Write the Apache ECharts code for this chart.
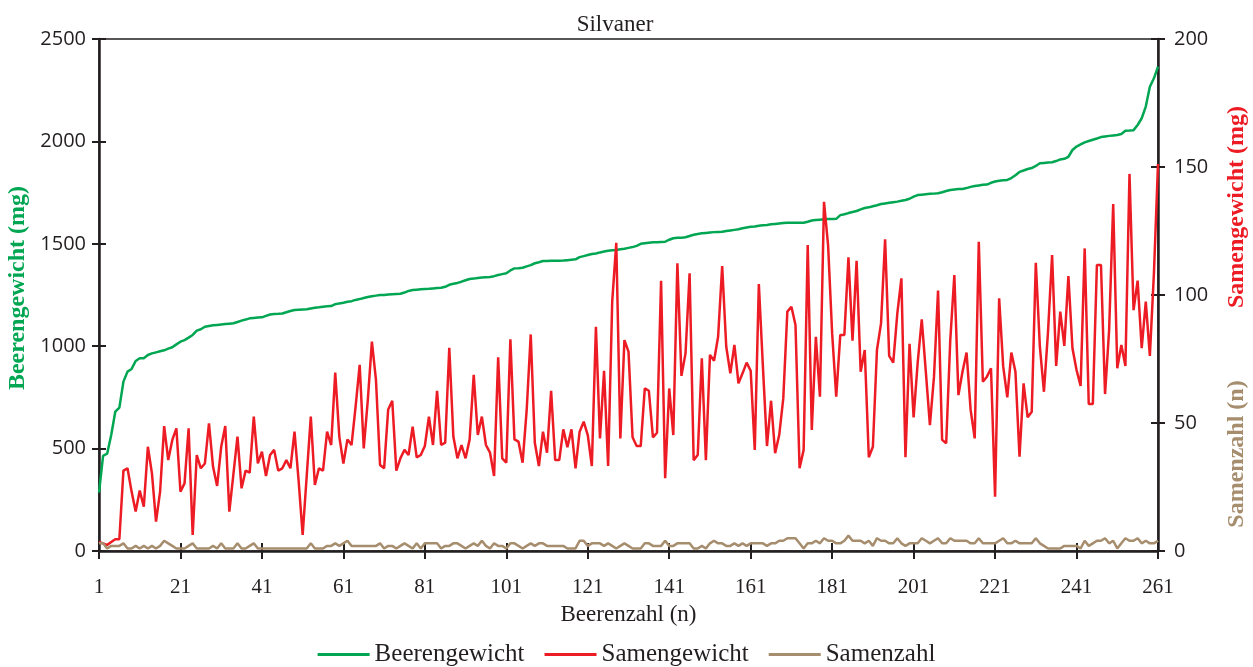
<!DOCTYPE html>
<html><head><meta charset="utf-8">
<script src="https://cdn.jsdelivr.net/npm/echarts@6/dist/echarts.min.js"></script>
<style>html,body{margin:0;padding:0;background:#fff}#c{width:1253px;height:667px}</style>
</head><body><div id="c"></div>
<script>
// Beerenzahl (n): berry number 1..261
const categories = [];
for (let i = 1; i <= 261; i++) categories.push(String(i));

// Beerengewicht (mg) – left axis
const beerengewicht = [285,465,475,566,680,700,827,876,889,928,
941,941,957,965,970,975,980,988,995,1009,
1022,1030,1042,1055,1076,1083,1095,1099,1102,1104,
1106,1108,1110,1112,1118,1125,1130,1136,1138,1140,
1141,1148,1155,1157,1158,1160,1166,1172,1177,1178,
1179,1180,1184,1188,1190,1193,1195,1196,1205,1209,
1212,1217,1220,1226,1230,1235,1240,1244,1247,1250,
1250,1252,1254,1255,1256,1262,1270,1274,1276,1278,
1279,1280,1282,1284,1285,1290,1300,1305,1309,1315,
1322,1328,1330,1333,1335,1337,1338,1342,1348,1352,
1356,1370,1380,1381,1383,1390,1396,1405,1410,1416,
1416,1417,1417,1417,1418,1420,1422,1424,1435,1440,
1445,1450,1453,1458,1462,1466,1468,1470,1473,1476,
1480,1484,1490,1500,1503,1505,1507,1508,1509,1510,
1520,1527,1529,1530,1532,1538,1544,1548,1551,1553,
1555,1557,1558,1559,1562,1565,1568,1571,1576,1580,
1583,1585,1588,1590,1592,1595,1597,1599,1601,1603,
1603,1603,1603,1603,1608,1614,1616,1618,1620,1621,
1621,1622,1640,1644,1650,1655,1660,1668,1675,1678,
1683,1688,1694,1697,1700,1703,1706,1710,1714,1720,
1730,1738,1740,1742,1744,1745,1747,1752,1758,1763,
1765,1767,1768,1772,1778,1782,1785,1788,1789,1798,
1804,1808,1810,1812,1821,1835,1851,1858,1865,1870,
1880,1893,1895,1897,1898,1904,1912,1915,1925,1958,
1975,1985,1995,2002,2008,2014,2021,2024,2027,2029,
2031,2036,2052,2053,2055,2080,2113,2170,2267,2308,2365];

// Samengewicht (mg) – right axis
const samengewicht = [3.5,3,2.3,3.5,4.6,4.6,31.4,32.3,23.2,15.4,
23.6,17.3,40.7,30.3,11.5,23.2,48.8,35.5,43.4,47.9,
23.2,26.4,47.9,6.3,37.5,32.3,34.2,49.9,32.9,25.4,
40.7,48.8,15.4,30,44.7,24.5,31.4,30.6,52.5,34.2,
38.8,29.3,37.5,39.5,31.4,32.3,35.5,32.3,46.6,27.7,
6.3,29.4,52.5,25.8,32.3,31.4,46.6,41.4,69.7,44.7,
34.2,43.6,41.4,56.4,72.7,40.1,59,81.8,66.8,33.6,
32.3,55.3,58.7,31.4,36.2,39.5,37.5,48.6,36.6,37.5,
41,52.5,41.4,62.6,41.4,42.3,79.4,44.7,36.2,41.4,
36.2,43.6,68.8,45.3,52.5,41.4,38.4,29.3,75.7,36.2,
34.5,82.7,43.6,42.7,34.5,55,84.6,42.3,33.2,46.6,
38.4,62.6,35.5,35.5,47.5,40.5,47.5,32.3,46.6,50.5,
45.3,33.2,87.6,44,70.4,33.2,97.4,120.4,44,82.4,
77.9,44.4,41,41,63.5,62.6,44.4,46.2,105.6,28.4,
63.5,45.3,112.4,68.4,77.2,108.5,35.5,37.5,75.3,35.5,
76.6,74.3,83.7,111.3,79.8,69.4,80.5,65.5,69.4,73.6,
70.4,39.5,104.3,72,41,58.7,38.2,45.3,59.6,93.5,
95.4,88.3,32.3,39.5,119.5,47.3,83.7,60.3,136.4,119.5,
85,60.3,84.4,84.4,114.7,82.2,113.4,70,78.5,36.6,
40.7,78.5,88.9,121.8,76.2,73.6,92.8,106.5,36.6,80.9,
52.2,73.6,90.5,70,49.2,68,101.7,43.4,42.1,82.4,
107.8,60.9,70,77.5,55.1,44,120.8,66.1,68.1,71.4,
21.2,98.7,72,60,77.5,70,36.8,65.5,52.2,54.4,
112.6,79.8,62.2,85.7,115.6,72.3,93.5,80.1,107.4,79.2,
70.7,64.5,118.2,57.4,57.4,111.7,111.7,61.3,86.3,135.5,
71.4,80.5,72.3,147.3,94.1,105.6,79.2,97.4,76.2,108.5,151.2];

// Samenzahl (n) – right axis
const samenzahl = [3,3,1,2,2,2,3,1,1,2,
1,2,1,2,1,2,4,3,2,1,
1,1,2,3,1,1,1,1,2,1,
3,1,1,1,3,1,1,2,3,1,
1,1,1,1,1,1,1,1,1,1,
1,1,3,1,1,1,2,2,3,2,
3,4,2,2,2,2,2,2,2,3,
1,2,2,1,2,3,2,1,3,1,
3,3,3,3,1,2,2,3,3,2,
1,2,3,2,4,2,1,3,2,2,
1,3,3,2,1,2,3,2,3,3,
2,2,2,2,2,1,1,1,4,4,
2,3,3,3,2,3,2,1,2,3,
2,1,1,1,3,3,2,2,2,4,
2,2,3,3,3,3,1,1,2,1,
3,4,3,3,2,2,3,2,3,2,
3,3,3,3,2,3,3,4,4,5,
5,5,3,1,3,3,4,3,5,4,
4,3,3,4,6,4,4,4,3,4,
2,5,4,4,3,3,5,3,2,3,
3,3,5,4,3,4,5,3,3,5,
4,4,4,4,3,3,5,3,3,3,
3,4,5,3,3,4,3,3,3,3,
5,3,2,1,1,1,1,2,2,2,
2,1,4,2,3,4,4,5,3,4,
1,3,5,4,4,5,3,4,3,3,4];

const INK = '#231f20';
const GREEN = '#00a651';
const RED = '#ed1c24';
const TAN = '#a68d6e';
const SERIF = '"Liberation Serif", "Times New Roman", serif';
const SANS = '"Open Sans", "DejaVu Sans", sans-serif';

const chart = echarts.init(document.getElementById('c'), null, {renderer: 'canvas'});

const baseX = {type: 'category', data: categories, boundaryGap: false, gridIndex: 0};
const tickStyle = {color: INK, width: 2};
const plain = v => String(v);

chart.setOption({
  animation: false,
  backgroundColor: '#fff',
  title: {
    text: 'Silvaner', left: 610, top: 8, textAlign: 'center',
    textStyle: {fontFamily: SERIF, fontSize: 23, fontWeight: 'normal', color: INK}
  },
  grid: {left: 99, right: 95, top: 39, bottom: 116, containLabel: false, outerBoundsMode: 'none',
         show: true, borderColor: INK, borderWidth: 1.5, backgroundColor: 'transparent'},
  legend: {
    top: 637, left: 'center', itemGap: 20, itemWidth: 52, itemHeight: 3, icon: 'rect',
    textStyle: {fontFamily: SERIF, fontSize: 25, color: INK},
    data: ['Beerengewicht', 'Samengewicht', 'Samenzahl']
  },
  xAxis: [
    Object.assign({}, baseX, {
      name: 'Beerenzahl (n)', nameLocation: 'middle', nameGap: 52,
      nameTextStyle: {fontFamily: SERIF, fontSize: 23, color: INK},
      axisLine: {show: true, lineStyle: {color: INK, width: 2.5}},
      axisTick: {show: true, interval: 19, length: 8, lineStyle: tickStyle},
      axisLabel: {interval: 19, margin: 26, fontFamily: SERIF, fontSize: 21, color: INK},
      splitLine: {show: false}
    }),
    Object.assign({}, baseX, {
      position: 'bottom',
      axisLine: {show: false},
      axisTick: {show: true, inside: true, interval: 19, length: 8, lineStyle: tickStyle},
      axisLabel: {show: false}, splitLine: {show: false}
    })
  ],
  yAxis: [
    {
      type: 'value', min: 0, max: 2500, interval: 500, position: 'left',
      name: 'Beerengewicht (mg)', nameLocation: 'middle', nameGap: 66, nameRotate: 90,
      nameTextStyle: {fontFamily: SERIF, fontSize: 24, fontWeight: 'bold', color: GREEN, padding: [0, 0, 0, 14]},
      axisLine: {show: true, lineStyle: {color: INK, width: 2.5}},
      axisTick: {show: true, length: 7, lineStyle: tickStyle},
      axisLabel: {margin: 13, fontFamily: SANS, fontSize: 20, color: INK, padding: [6, 0, 0, 0], formatter: plain},
      splitLine: {show: false}
    },
    {
      type: 'value', min: 0, max: 200, interval: 50, position: 'right',
      axisLine: {show: true, lineStyle: {color: INK, width: 2.5}},
      axisTick: {show: true, length: 7, lineStyle: tickStyle},
      axisLabel: {margin: 16, fontFamily: SANS, fontSize: 20, color: INK, padding: [6, 0, 0, 0], formatter: plain},
      splitLine: {show: false}
    },
    {
      type: 'value', min: 0, max: 2500, interval: 500, position: 'left',
      axisLine: {show: false},
      axisTick: {show: true, inside: true, length: 7, lineStyle: tickStyle},
      axisLabel: {show: false}, splitLine: {show: false}
    },
    {
      type: 'value', min: 0, max: 200, interval: 50, position: 'right',
      axisLine: {show: false},
      axisTick: {show: true, inside: true, length: 7, lineStyle: tickStyle},
      axisLabel: {show: false}, splitLine: {show: false}
    }
  ],
  graphic: [
    {type: 'text', x: 1237, y: 207, rotation: Math.PI / 2,
     style: {text: 'Samengewicht (mg)', fill: RED, font: 'bold 24px ' + SERIF, align: 'center', verticalAlign: 'middle'}},
    {type: 'text', x: 1237, y: 454, rotation: Math.PI / 2,
     style: {text: 'Samenzahl (n)', fill: TAN, font: 'bold 24px ' + SERIF, align: 'center', verticalAlign: 'middle'}}
  ],
  series: [
    {name: 'Beerengewicht', type: 'line', xAxisIndex: 0, yAxisIndex: 0, data: beerengewicht,
     symbol: 'none', color: GREEN, lineStyle: {color: GREEN, width: 2.5}},
    {name: 'Samengewicht', type: 'line', xAxisIndex: 0, yAxisIndex: 1, data: samengewicht,
     symbol: 'none', color: RED, lineStyle: {color: RED, width: 2.5}},
    {name: 'Samenzahl', type: 'line', xAxisIndex: 0, yAxisIndex: 1, data: samenzahl,
     symbol: 'none', color: TAN, lineStyle: {color: TAN, width: 2.5}}
  ]
});
</script>
</body></html>
